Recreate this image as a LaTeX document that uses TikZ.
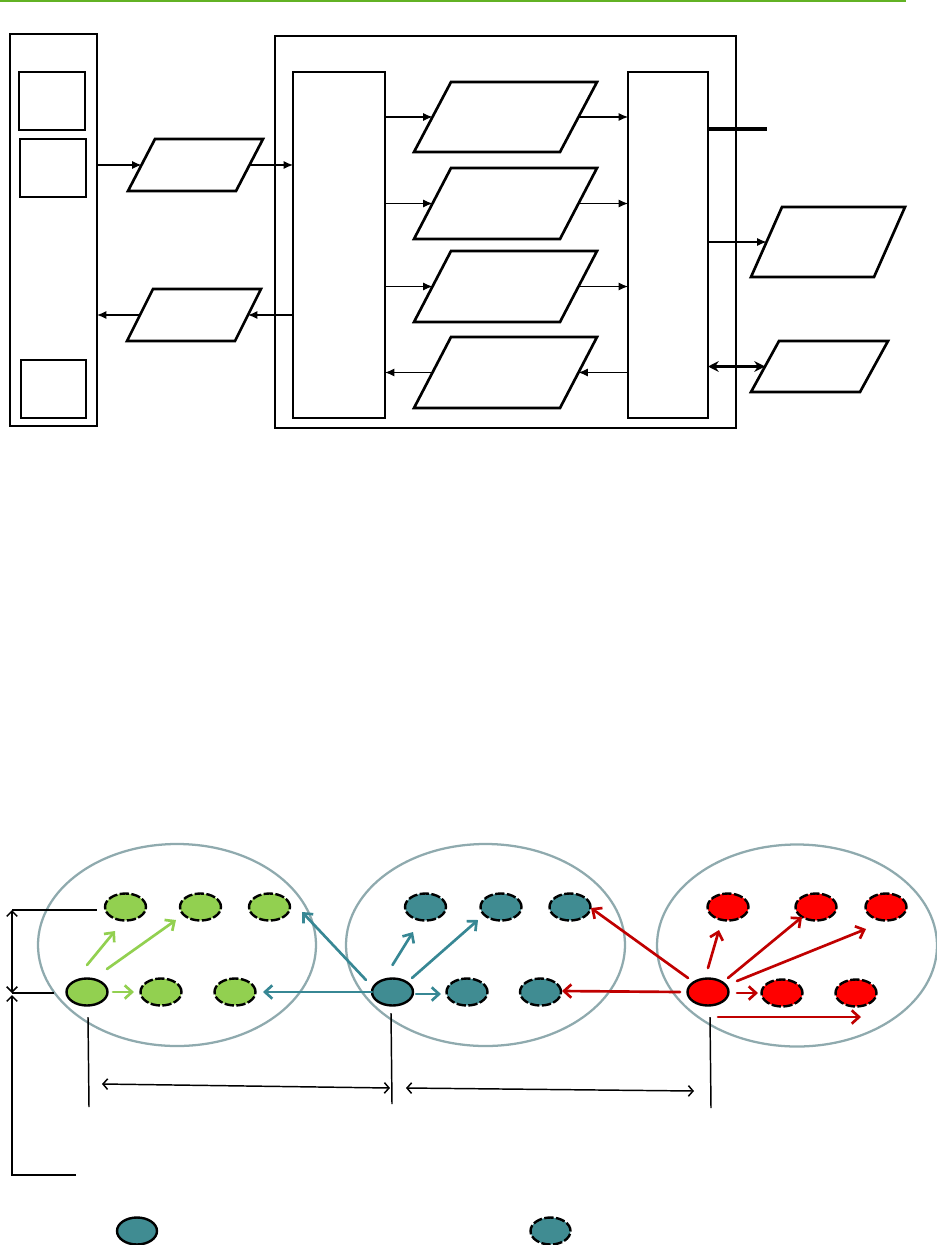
\documentclass[tikz,border=0pt]{standalone}
\usetikzlibrary{arrows.meta,shapes.geometric,calc}
\definecolor{topgreen}{RGB}{98,178,36}
\definecolor{lgreen}{RGB}{146,208,80}
\definecolor{tealfill}{RGB}{64,140,146}
\definecolor{tealarr}{RGB}{55,135,148}
\definecolor{redfill}{RGB}{255,0,0}
\definecolor{darkred}{RGB}{192,0,0}
\definecolor{ringgray}{RGB}{143,170,174}
\newcommand\pgram[6]{%
  \draw[pg] ({#2+#6},#3) -- ({#2+#6+#5},#3) -- ({#2+#5},#4) -- (#2,#4) -- cycle;
  \coordinate (#1-w) at ({#2+#6/2},{(#3+#4)/2});
  \coordinate (#1-e) at ({#2+#5+#6/2},{(#3+#4)/2});}
\begin{document}
\begin{tikzpicture}[x=0.75pt,y=-0.75pt,
  rbox/.style 2 args={draw,line width=1.4pt,inner sep=0,outer sep=0,minimum width=#1*0.75pt,minimum height=#2*0.75pt},
  pg/.style={draw,line width=2pt,line join=miter},
  thinarr/.style={line width=0.8pt,-{Latex[length=7pt,width=6pt]}},
  dot/.style={ellipse,draw,line width=1.8pt,inner sep=0,outer sep=0,minimum width=41*0.75pt,minimum height=27*0.75pt},
  dashdot/.style={dot,dash pattern=on 7pt off 1.8pt},
  ring/.style 2 args={ellipse,draw=ringgray,line width=1.7pt,inner sep=0,outer sep=0,minimum width=#1*0.75pt,minimum height=#2*0.75pt},
  carr/.style={line width=2pt,line cap=round,-{Straight Barb[length=5.5pt,width=10pt]}},
  dimline/.style={line width=1.1pt},
  dimarr/.style={line width=1.1pt,{Straight Barb[length=4pt,width=8pt]}-{Straight Barb[length=4pt,width=8pt]}},
  dimarrs/.style={line width=1.1pt,{Straight Barb[length=3.5pt,width=8pt]}-{Straight Barb[length=3.5pt,width=8pt]}}
]
\useasboundingbox (0,0) rectangle (937,1245);

% top green rule
\coordinate (G1) at (0,1);
\coordinate (G2) at (906,1);
\draw[topgreen,line width=1.5pt] (G1) -- (G2);

% ---------- top diagram ----------
\node[rbox={87}{392}] (L) at (53.5,230) {};
\node[rbox={66}{58}] (b1) at (52,101) {};
\node[rbox={66}{58}] (b2) at (53,168) {};
\node[rbox={65}{58}] (b3) at (53.5,389) {};

\node[rbox={461}{392}] (B) at (505.5,232) {};
\node[rbox={92}{346}] (IL) at (339,245) {};
\node[rbox={80}{346}] (IR) at (668,245) {};

\pgram{P1}{128}{139}{191}{108}{27}
\pgram{P2}{127}{289}{341}{108}{26}
\pgram{P3}{414}{82}{152}{146}{37}
\pgram{P4}{414}{168}{239}{146}{37}
\pgram{P5}{414}{251}{322}{146}{37}
\pgram{P6}{414}{337}{408}{146}{37}
\pgram{P7}{751}{207}{277}{123}{31}
\pgram{P8}{751}{341}{392}{109}{28}

\draw[thinarr] (L.east |- P1-w) -- (P1-w);
\draw[thinarr] (P1-e) -- (P1-e -| IL.west);
\draw[thinarr] (IL.west |- P2-e) -- (P2-e);
\draw[thinarr] (P2-w) -- (P2-w -| L.east);
\foreach \p in {P3,P4,P5}{
  \draw[thinarr] (IL.east |- \p-w) -- (\p-w);
  \draw[thinarr] (\p-e) -- (\p-e -| IR.west);
}
\draw[thinarr] (IR.west |- P6-e) -- (P6-e);
\draw[thinarr] (P6-w) -- (P6-w -| IL.east);

\coordinate (T) at (767,129);
\draw[line width=2.6pt] (IR.east |- T) -- (T);
\draw[thinarr] (IR.east |- P7-w) -- (P7-w);
\draw[line width=2.5pt,{Stealth[length=8pt,width=8pt]}-{Stealth[length=8pt,width=8pt]}] (IR.east |- P8-w) -- (P8-w);

% ---------- bottom diagram ----------
\node[ring={278}{202}] (E1) at (177,945) {};
\node[ring={279}{202}] (E2) at (485.5,945) {};
\node[ring={280}{202}] (E3) at (797,945.5) {};

% green
\node[dot,fill=lgreen] (g0) at (87,992) {};
\node[dashdot,fill=lgreen] (g1) at (161,992) {};
\node[dashdot,fill=lgreen] (g2) at (235,992) {};
\node[dashdot,fill=lgreen] (g3) at (125.5,907) {};
\node[dashdot,fill=lgreen] (g4) at (200.5,907) {};
\node[dashdot,fill=lgreen] (g5) at (269.5,907) {};
% teal
\node[dot,fill=tealfill] (t0) at (392.5,992) {};
\node[dashdot,fill=tealfill] (t1) at (467,992) {};
\node[dashdot,fill=tealfill] (t2) at (540.5,992) {};
\node[dashdot,fill=tealfill] (t3) at (425.5,907) {};
\node[dashdot,fill=tealfill] (t4) at (501,907) {};
\node[dashdot,fill=tealfill] (t5) at (570,907) {};
% red
\node[dot,fill=redfill] (r0) at (708,992) {};
\node[dashdot,fill=redfill] (r1) at (782,993) {};
\node[dashdot,fill=redfill] (r2) at (856,993) {};
\node[dashdot,fill=redfill] (r3) at (728,907) {};
\node[dashdot,fill=redfill] (r4) at (816,907) {};
\node[dashdot,fill=redfill] (r5) at (886,907) {};

% green arrows
\draw[carr,lgreen] ($(g0)+(0,-27)$) -- ($(g3)+(-10.5,24)$);
\draw[carr,lgreen] ($(g0)+(20,-23)$) -- ($(g4)+(-24.5,13)$);
\draw[carr,lgreen] ($(g0)+(26,0)$) -- ($(g1)+(-27,0)$);
% teal arrows
\draw[carr,tealarr] (t0.west) -- ($(g2)+(28,0)$);
\draw[carr,tealarr] ($(t0)+(-26.5,-12)$) -- ($(g5)+(32.5,5)$);
\draw[carr,tealarr] ($(t0)+(0,-27)$) -- ($(t3)+(-12.5,25)$);
\draw[carr,tealarr] ($(t0)+(19.5,-14)$) -- ($(t4)+(-23,13)$);
\draw[carr,tealarr] ($(t0)+(23.5,2)$) -- ($(t1)+(-26,2)$);
% red arrows
\draw[carr,darkred] ($(r0)+(-20,-14)$) -- ($(t5)+(21,1)$);
\draw[carr,darkred] ($(r0)+(-28,0)$) -- ($(t2)+(21.5,-1)$);
\draw[carr,darkred] ($(r0)+(0,-24)$) -- ($(r3)+(-9,23)$);
\draw[carr,darkred] ($(r0)+(20,-14)$) -- ($(r4)+(-14,10)$);
\draw[carr,darkred] ($(r0)+(29,-11)$) -- ($(r5)+(-20,22)$);
\draw[carr,darkred] ($(r0)+(29,1)$) -- ($(r1)+(-24,0)$);
\draw[carr,darkred] ($(r0)+(10,25)$) -- ($(r2)+(5,24)$);

% dimension lines
\coordinate (H1) at ($(g3)+(-113.5,3)$);
\coordinate (H1e) at ($(g3)+(-28.5,3)$);
\coordinate (H2) at ($(g0)+(-75,1)$);
\coordinate (H2e) at ($(g0)+(-33,1)$);
\draw[dimline] (H1) -- (H1e);
\draw[dimline] (H2) -- (H2e);
\draw[dimarr] (H1) -- (H2);
\coordinate (Bc) at (12,1175);
\coordinate (Be) at (76,1175);
\draw[dimline,-{Straight Barb[length=4pt,width=8pt]}] (Be) -- (Bc) -- ($(H2)+(0,2)$);

\coordinate (k1a) at ($(g0)+(1,25)$);
\coordinate (k1b) at ($(g0)+(2,115)$);
\coordinate (k2a) at ($(t0)+(-1.5,21)$);
\coordinate (k2b) at ($(t0)+(-0.5,112)$);
\coordinate (k3a) at ($(r0)+(2,25)$);
\coordinate (k3b) at ($(r0)+(3,116)$);
\draw[dimline] (k1a) -- (k1b);
\draw[dimline] (k2a) -- (k2b);
\draw[dimline] (k3a) -- (k3b);
\draw[dimarrs] ($(k1b)+(13,-23)$) -- ($(k2b)+(-2,-16)$);
\draw[dimarrs] ($(k2b)+(14,-16)$) -- ($(k3b)+(-17,-17)$);

% legend
\node[dot,fill=tealfill,minimum width=40*0.75pt] (lg1) at (137,1231) {};
\node[dashdot,fill=tealfill,minimum width=40*0.75pt] (lg2) at (550.5,1231) {};
\end{tikzpicture}
\end{document}
